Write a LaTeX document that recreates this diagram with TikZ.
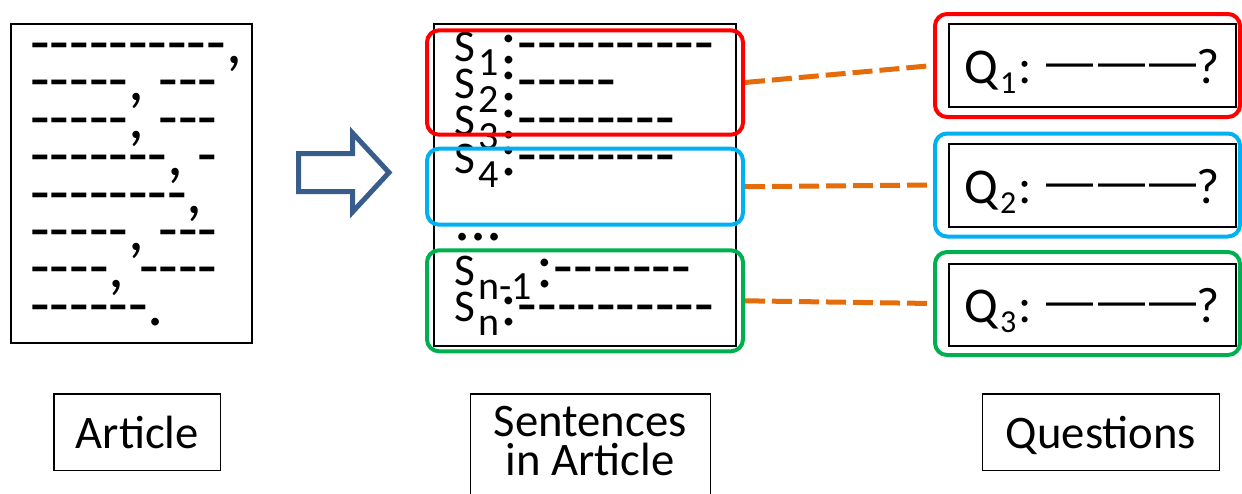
\documentclass[tikz,border=0pt]{standalone}
\usepackage{fontspec}
\setmainfont{Carlito}
\newfontfamily\rulefont{Liberation Sans}
\definecolor{boxred}{HTML}{FF0000}
\definecolor{boxblue}{HTML}{00B0F0}
\definecolor{boxgreen}{HTML}{00B050}
\definecolor{linkorange}{HTML}{E46C0A}
\definecolor{arrowblue}{HTML}{385D8A}
% a run of separate hyphens (kerns keep them from joining into dashes)
\newcount\dashcnt
\newcommand\dashrun[1]{\dashcnt=#1\relax\loop\ifnum\dashcnt>0 -\kern0pt\advance\dashcnt by -1\relax\repeat}
% sentence label S with its index
\newcommand\slab[1]{S\kern2.25pt\raisebox{-10.5pt}{\fontsize{30}{30}\selectfont #1}}
% question line Q with its index and the blank to fill
\newcommand\qlab[1]{Q\kern1.5pt\raisebox{-7.5pt}{\fontsize{24}{24}\selectfont #1}\kern1.5pt: %
  {\rulefont\fontsize{35.25}{35.25}\selectfont\raisebox{4.5pt}{\textemdash\kern3.4pt\textemdash\kern3.4pt\textemdash}}?}
\begin{document}
\begin{tikzpicture}[x=0.75pt,y=-0.75pt,
  body/.style={font=\fontsize{48}{48}\selectfont, anchor=base west, inner sep=0pt},
  slabel/.style={font=\fontsize{34}{34}\selectfont, anchor=base west, inner sep=0pt},
  sheet/.style={draw, line width=1.5pt, inner sep=0pt},
  frame/.style={draw, line width=3pt, rounded corners=9pt, inner sep=0pt},
  qbox/.style={draw, line width=1.5pt, inner sep=0pt, minimum width=215.25pt,
    font=\fontsize{37.5}{37.5}\selectfont, text height=26.25pt, text depth=0pt},
  caption/.style={draw, line width=1.1pt, inner sep=0pt, minimum height=57.2pt,
    font=\fontsize{35}{35}\selectfont, text height=24.45pt, text depth=0pt},
  link/.style={draw=linkorange, line width=3.75pt, dash pattern=on 15pt off 5.25pt}]
\useasboundingbox (0,0) rectangle (1242,493);

% the article
\node[sheet, minimum width=181pt, minimum height=239.25pt] (article) at (131.7,183.8) {};
\foreach \t [count=\i] in {{\dashrun{10},},{\dashrun{5}, \dashrun{3}},{\dashrun{5}, \dashrun{3}},
  {\dashrun{7}, \dashrun{1}},{\dashrun{8},},{\dashrun{5}, \dashrun{3}},{\dashrun{4}, \dashrun{4}},{\dashrun{6}.}}
  \node[body] (art\i) at (30,{63.5+(\i-1)*37.4}) {\t};

% split arrow
\draw[arrowblue, line width=3.75pt, miter limit=10]
  (298.5,153.5) -- (352.5,153.5) -- (352.5,133) -- (389,172.5) -- (352.5,212)
  -- (352.5,191.5) -- (298.5,191.5) -- cycle;

% sentences of the article
\node[slabel] (s1) at (454,61) {\slab{1}};
\node[slabel] (s2) at (454,98.4) {\slab{2}};
\node[slabel] (s3) at (454,135.8) {\slab{3}};
\node[slabel] (s4) at (454,173.2) {\slab{4}};
\node[slabel] (sm) at (454,285.4) {\slab{n-1}};
\node[slabel] (sn) at (454,321) {\slab{n}};
\node[body] (t1) at (500.5,63.5) {:\dashrun{10}};
\node[body] (t2) at (500.5,100.9) {:\dashrun{5}};
\node[body] (t3) at (500.5,138.3) {:\dashrun{8}};
\node[body] (t4) at (500.5,175.7) {:\dashrun{8}};
\node[body] (tm) at (536.5,287.9) {:\dashrun{7}};
\node[body] (tn) at (500.5,325.3) {:\dashrun{10}};
\node[body] (gap) at (454,240) {...};
\node[sheet, minimum width=226.5pt, minimum height=241pt] (sentences) at (585.3,185) {};

% sentence groups
\node[frame, draw=boxred, minimum width=237pt, minimum height=78.3pt] (gred) at (585,82.5) {};
\node[frame, draw=boxblue, minimum width=237pt, minimum height=57pt] (gblue) at (585,186.7) {};
\node[frame, draw=boxgreen, minimum width=237pt, minimum height=75.75pt] (ggreen) at (585,300.8) {};

% questions
\node[frame, draw=boxred, minimum width=228.75pt, minimum height=77.25pt] (qred) at (1087.5,65.5) {};
\node[frame, draw=boxblue, minimum width=228.75pt, minimum height=77.25pt] (qblue) at (1087.5,185) {};
\node[frame, draw=boxgreen, minimum width=228.75pt, minimum height=77.25pt] (qgreen) at (1087.5,303.5) {};
\node[qbox, minimum height=61.8pt] (q1) at (1092.2,65.5) {\qlab{1}};
\node[qbox, minimum height=61.8pt] (q2) at (1092.2,185.5) {\qlab{2}};
\node[qbox, minimum height=61.1pt] (q3) at (1092.2,305) {\qlab{3}};

% links between groups and questions
\draw[link] (gred.east) -- (qred.west);
\draw[link] (gblue.east) -- (qblue.west);
\draw[link] (ggreen.east) -- (qgreen.west);

% captions
\node[caption, minimum width=124.7pt] (capart) at (137.2,432.2) {Article};
\node[draw, line width=1.1pt, minimum width=180pt, minimum height=97.5pt] (capsentbox) at (590.3,459) {};
\node[font=\fontsize{35}{29.25}\selectfont, align=center, inner sep=0pt] (capsent) at (590.3,441.3) {Sentences\\in Article};
\node[caption, minimum width=177.45pt] (capq) at (1101,432.2) {Questions};
\end{tikzpicture}
\end{document}
